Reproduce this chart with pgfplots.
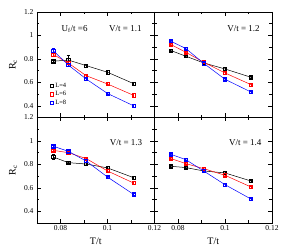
\documentclass[border=0pt]{standalone}
\usepackage{fontspec}
\setmainfont{Liberation Serif}
\usepackage{pgfplots}
\pgfplotsset{compat=1.18}
\pgfplotsset{
  panel/.style={
    scale only axis, width=117.5pt, height=105.5pt,
    xmin=0.07, xmax=0.12, ymin=0.3, ymax=1.2,
    xtick={0.08,0.1,0.12}, minor xtick={0.07,0.09,0.11},
    ytick={0.4,0.6,0.8,1.0,1.2}, minor ytick={0.3,0.5,0.7,0.9,1.1},
    xticklabels={0.08,0.1,0.12}, yticklabels={0.4,0.6,0.8,1,1.2},
    tick align=inside, major tick length=4pt, minor tick length=2.5pt,
    tick style={black, line width=0.5pt},
    axis line style={line width=0.6pt},
    every tick label/.style={font=\fontsize{7.5}{8}\selectfont},
    xticklabel style={yshift=1pt},
    label style={font=\fontsize{10}{11}\selectfont},
    clip=false,
  },
  ser/.style={mark=square, mark size=1.6pt, line width=0.5pt, mark options={solid, line width=0.6pt},
    /pgfplots/error bars/y dir=both, /pgfplots/error bars/y explicit,
    /pgfplots/error bars/error mark=-,
    /pgfplots/error bars/error bar style={line width=0.6pt},
    /pgfplots/error bars/error mark options={rotate=90, mark size=1.6pt, line width=0.6pt}},
  legend image code/.code={\draw[#1] plot coordinates {(0.15cm,0cm)};},
}
\newcommand{\vlab}[1]{\fontsize{9}{10}\selectfont #1}
\begin{document}
\begin{tikzpicture}
\useasboundingbox (-37pt,-28pt) rectangle (245pt,223pt);
% top-left
\begin{axis}[panel, at={(0pt,105.5pt)}, anchor=south west,
  xticklabels={}, ylabel={R\textsubscript{c}},
  legend style={at={(rel axis cs:0.11,0.35)}, anchor=north west, draw=none, fill=none,
    font=\fontsize{6.5}{7}\selectfont, row sep=-1.2pt, inner sep=0pt}]
\addplot[black, ser] coordinates {(0.0769,0.780)+-(0,0.012) (0.0833,0.790)+-(0,0.040) (0.0909,0.743)+-(0,0.012) (0.1,0.686)+-(0,0.020) (0.1111,0.589)+-(0,0.012)};
\addplot[red, ser] coordinates {(0.0769,0.838)+-(0,0.012) (0.0833,0.765)+-(0,0.015) (0.0909,0.657)+-(0,0.015) (0.1,0.586)+-(0,0.012) (0.1111,0.489)+-(0,0.015)};
\addplot[blue, ser] coordinates {(0.0769,0.870)+-(0,0.022) (0.0833,0.748)+-(0,0.012) (0.0909,0.629)+-(0,0.012) (0.1,0.505)+-(0,0.010) (0.1111,0.400)+-(0,0.012)};
\legend{L=4,L=6,L=8}
\node[anchor=west] at (rel axis cs:0.18,0.84) {\vlab{U\textsubscript{f}/t =6}};
\node[anchor=east] at (rel axis cs:0.92,0.84) {\vlab{V/t = 1.1}};
\end{axis}
% top-right
\begin{axis}[panel, at={(117.5pt,105.5pt)}, anchor=south west, xticklabels={}, yticklabels={}]
\addplot[black, ser] coordinates {(0.0769,0.872)+-(0,0.010) (0.0833,0.823)+-(0,0.010) (0.0909,0.766)+-(0,0.010) (0.1,0.714)+-(0,0.012) (0.1111,0.643)+-(0,0.010)};
\addplot[red, ser] coordinates {(0.0769,0.923)+-(0,0.010) (0.0833,0.857)+-(0,0.010) (0.0909,0.772)+-(0,0.010) (0.1,0.680)+-(0,0.012) (0.1111,0.580)+-(0,0.010)};
\addplot[blue, ser] coordinates {(0.0769,0.951)+-(0,0.010) (0.0833,0.889)+-(0,0.010) (0.0909,0.763)+-(0,0.010) (0.1,0.626)+-(0,0.010) (0.1111,0.517)+-(0,0.010)};
\node[anchor=east] at (rel axis cs:0.925,0.84) {\vlab{V/t = 1.2}};
\end{axis}
% bottom-left
\begin{axis}[panel, at={(0pt,0pt)}, anchor=south west, xlabel={T/t}, ylabel={R\textsubscript{c}}]
\addplot[black, ser] coordinates {(0.0769,0.863)+-(0,0.020) (0.0833,0.815)+-(0,0.010) (0.0909,0.803)+-(0,0.012) (0.1,0.770)+-(0,0.012) (0.1111,0.687)+-(0,0.015)};
\addplot[red, ser] coordinates {(0.0769,0.920)+-(0,0.010) (0.0833,0.900)+-(0,0.010) (0.0909,0.850)+-(0,0.010) (0.1,0.744)+-(0,0.012) (0.1111,0.641)+-(0,0.012)};
\addplot[blue, ser] coordinates {(0.0769,0.955)+-(0,0.010) (0.0833,0.912)+-(0,0.010) (0.0909,0.829)+-(0,0.010) (0.1,0.692)+-(0,0.010) (0.1111,0.544)+-(0,0.010)};
\node[anchor=east] at (rel axis cs:0.925,0.76) {\vlab{V/t = 1.3}};
\end{axis}
% bottom-right
\begin{axis}[panel, at={(117.5pt,0pt)}, anchor=south west, xlabel={T/t}, yticklabels={}]
\addplot[black, ser] coordinates {(0.0769,0.784)+-(0,0.010) (0.0833,0.773)+-(0,0.010) (0.0909,0.744)+-(0,0.010) (0.1,0.727)+-(0,0.012) (0.1111,0.658)+-(0,0.010)};
\addplot[red, ser] coordinates {(0.0769,0.850)+-(0,0.010) (0.0833,0.807)+-(0,0.010) (0.0909,0.764)+-(0,0.010) (0.1,0.707)+-(0,0.010) (0.1111,0.607)+-(0,0.010)};
\addplot[blue, ser] coordinates {(0.0769,0.886)+-(0,0.010) (0.0833,0.841)+-(0,0.010) (0.0909,0.744)+-(0,0.010) (0.1,0.627)+-(0,0.010) (0.1111,0.504)+-(0,0.010)};
\node[anchor=east] at (rel axis cs:0.94,0.76) {\vlab{V/t = 1.4}};
\end{axis}
\end{tikzpicture}
\end{document}
